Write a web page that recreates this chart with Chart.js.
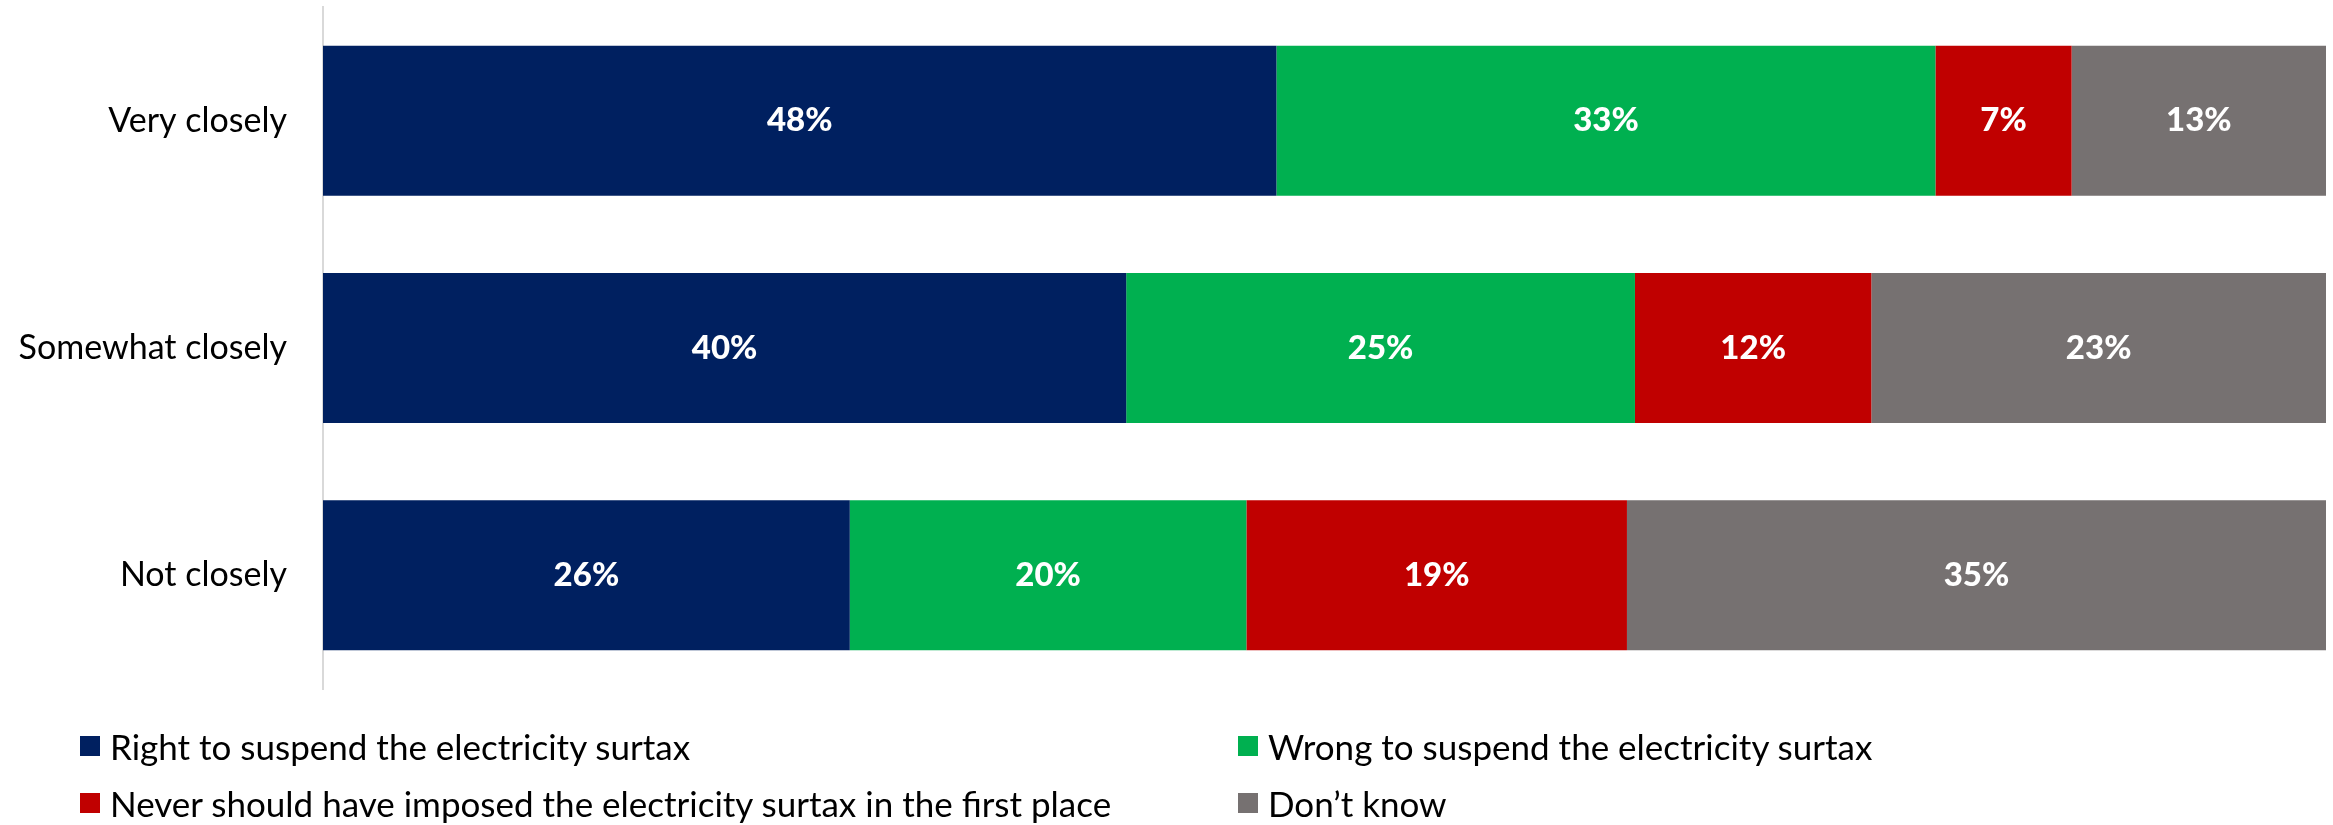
<!DOCTYPE html>
<html>
<head>
<meta charset="utf-8">
<script src="https://cdn.jsdelivr.net/npm/chart.js@4/dist/chart.umd.min.js"></script>
<style>
    html, body { margin: 0; padding: 0; background: #fff; }
    #wrap { position: relative; width: 2333px; height: 825px; }
    #legend { position: absolute; left: 0; top: 0; width: 2333px; height: 825px; pointer-events: none;
              font-family: Lato, "Open Sans", sans-serif; font-size: 35px; color: #000; }
    .legend-item { position: absolute; display: flex; align-items: center; white-space: nowrap; }
    .legend-box { width: 20px; height: 20px; margin-right: 10px; }
</style>
</head>
<body>
<div id="wrap">
    <canvas id="chart" width="2333" height="825"></canvas>
    <div id="legend"></div>
</div>
<script>
// Chart data
const categories = ['Very closely', 'Somewhat closely', 'Not closely'];
const seriesNames = [
    'Right to suspend the electricity surtax',
    'Wrong to suspend the electricity surtax',
    'Never should have imposed the electricity surtax in the first place',
    'Don\u2019t know'
];
const rightValues = [47.6, 40.1, 26.3];
const wrongValues = [32.9, 25.4, 19.8];
const neverValues = [6.8, 11.8, 19.0];
const dontKnowValues = [12.7, 22.7, 34.9];
const seriesColors = ['#002060', '#00B050', '#C00000', '#767171'];

const FONT = 'Lato, "Open Sans", sans-serif';

// Draw the percentage inside each bar segment
const barLabels = {
    id: 'barLabels',
    afterDatasetsDraw(chart) {
        const ctx = chart.ctx;
        ctx.save();
        ctx.fillStyle = '#FFFFFF';
        ctx.font = '900 33px ' + FONT;
        ctx.textAlign = 'center';
        ctx.textBaseline = 'middle';
        chart.data.datasets.forEach((ds, i) => {
            const meta = chart.getDatasetMeta(i);
            meta.data.forEach((bar, j) => {
                const cx = (bar.x + bar.base) / 2;
                ctx.fillText(Math.round(ds.data[j]) + '%', cx, bar.y);
            });
        });
        ctx.restore();
    }
};

const datasets = [rightValues, wrongValues, neverValues, dontKnowValues].map((vals, i) => ({
    label: seriesNames[i],
    data: vals,
    backgroundColor: seriesColors[i],
    borderWidth: 0,
    categoryPercentage: 1,
    barPercentage: 0.66
}));

const chart = new Chart(document.getElementById('chart'), {
    type: 'bar',
    data: { labels: categories, datasets: datasets },
    options: {
        indexAxis: 'y',
        responsive: false,
        animation: false,
        layout: { padding: { top: 7, right: 7, bottom: 136, left: 0 } },
        plugins: {
            legend: { display: false },
            tooltip: { enabled: false }
        },
        scales: {
            x: { stacked: true, min: 0, max: 100, display: false },
            y: {
                stacked: true,
                grid: { display: false, drawTicks: false },
                border: { display: true, color: '#D9D9D9', width: 2 },
                ticks: { color: '#000', padding: 36, font: { family: FONT, size: 34 } },
                afterFit(scale) {
                    // fixed axis width; drop the label overhang padding so the plot starts at the top
                    scale.width = 323;
                    scale.paddingTop = 0;
                    scale.paddingBottom = 0;
                }
            }
        }
    },
    plugins: [barLabels]
});

// Two-column legend below the chart
const legendSpots = [
    { left: 80, top: 746 },
    { left: 1238, top: 746 },
    { left: 80, top: 803 },
    { left: 1238, top: 803 }
];
const legendEl = document.getElementById('legend');
seriesNames.forEach((name, i) => {
    const item = document.createElement('div');
    item.className = 'legend-item';
    item.style.left = legendSpots[i].left + 'px';
    item.style.top = (legendSpots[i].top - 22) + 'px';
    item.style.height = '44px';
    item.innerHTML = `<span class="legend-box" style="background:${seriesColors[i]}"></span><span>${name}</span>`;
    legendEl.appendChild(item);
});
</script>
</body>
</html>
